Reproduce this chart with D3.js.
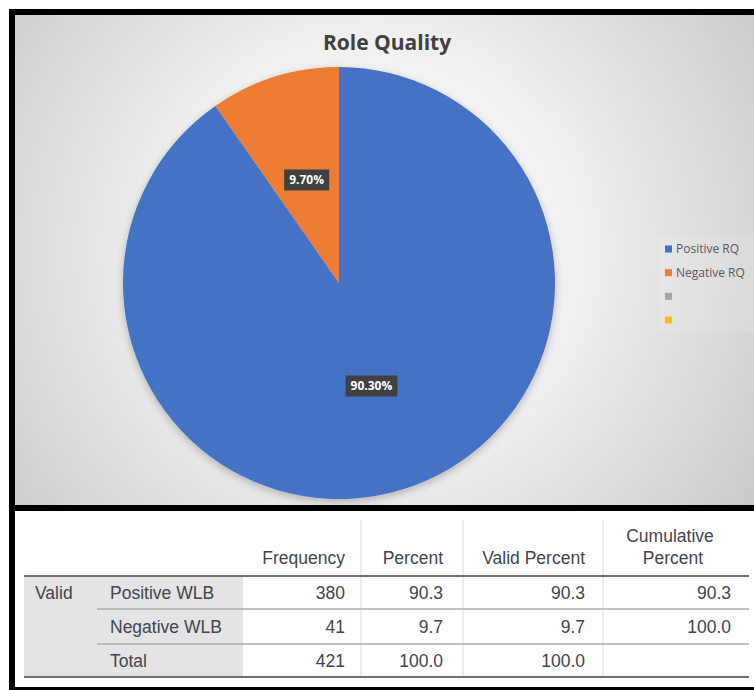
<!DOCTYPE html>
<html>
<head>
<meta charset="utf-8">
<script src="https://cdn.jsdelivr.net/npm/d3@7"></script>
<style>
  html, body { margin: 0; padding: 0; background: #ffffff; }
  svg { display: block; }
</style>
</head>
<body>
<svg id="chart" width="754" height="690"></svg>
<script>
// Pie series (percent of respondents)
const categories = ["Positive RQ", "Negative RQ", "", ""];
const shares = [90.3, 9.7, 0, 0];
const sliceColors = ["#4472C4", "#ED7D31", "#A5A5A5", "#FFC000"];

// Frequency table
const tableHeaders = ["Frequency", "Percent", "Valid Percent", "Cumulative Percent"];
const rowGroup = "Valid";
const rowLabels = ["Positive WLB", "Negative WLB", "Total"];
const frequency = [380, 41, 421];
const percent = [90.3, 9.7, 100.0];
const validPercent = [90.3, 9.7, 100.0];
const cumulativePercent = [90.3, 100.0, null];

const svg = d3.select("#chart");
const W = 754, H = 690;

// ---- chart panel background ----
const defs = svg.append("defs");
const grad = defs.append("radialGradient")
  .attr("id", "bg").attr("gradientUnits", "userSpaceOnUse")
  .attr("cx", 370).attr("cy", 250).attr("r", 470);
grad.append("stop").attr("offset", "0%").attr("stop-color", "#ffffff");
grad.append("stop").attr("offset", "45%").attr("stop-color", "#f0f0f0");
grad.append("stop").attr("offset", "100%").attr("stop-color", "#c8c8c8");

const shadow = defs.append("filter").attr("id", "pieShadow")
  .attr("x", "-20%").attr("y", "-20%").attr("width", "140%").attr("height", "140%");
shadow.append("feGaussianBlur").attr("in", "SourceAlpha").attr("stdDeviation", 4);
shadow.append("feOffset").attr("dx", 0).attr("dy", 3).attr("result", "b");
shadow.append("feComponentTransfer").append("feFuncA").attr("type", "linear").attr("slope", 0.25);
const merge = shadow.append("feMerge");
merge.append("feMergeNode");
merge.append("feMergeNode").attr("in", "SourceGraphic");

svg.append("rect").attr("x", 15).attr("y", 15).attr("width", W - 15).attr("height", 490)
  .attr("fill", "url(#bg)");
svg.append("rect").attr("x", 15).attr("y", 511).attr("width", W - 15).attr("height", 176)
  .attr("fill", "#ffffff");

// ---- title ----
svg.append("text")
  .attr("x", 387).attr("y", 50)
  .attr("text-anchor", "middle")
  .style("font-family", "'Open Sans', 'Noto Sans', sans-serif")
  .style("font-weight", "700")
  .style("font-size", "21px")
  .style("fill", "#404040")
  .text("Role Quality");

// ---- pie ----
const cx = 339, cy = 283, R = 216;
const pie = d3.pie().sort(null).value(d => d.v);
const pieData = pie(categories.map((c, i) => ({ c, v: shares[i], color: sliceColors[i] })));
const arc = d3.arc().innerRadius(0).outerRadius(R);

const gPie = svg.append("g").attr("transform", `translate(${cx},${cy})`);
gPie.append("g").attr("filter", "url(#pieShadow)")
  .selectAll("path").data(pieData.filter(d => d.data.v > 0)).join("path")
  .attr("d", arc)
  .attr("fill", d => d.data.color);

// data labels
const fmt = v => v.toFixed(2) + "%";
const labels = gPie.selectAll("g.lbl").data(pieData.filter(d => d.data.v > 0)).join("g")
  .attr("class", "lbl")
  .attr("transform", d => {
    const [x, y] = arc.centroid(d);
    return `translate(${x},${y})`;
  });
labels.each(function(d) {
  const g = d3.select(this);
  const t = g.append("text")
    .attr("text-anchor", "middle")
    .attr("dy", "0.35em")
    .style("font-family", "'Open Sans', 'Noto Sans', sans-serif")
    .style("font-weight", "700")
    .style("font-size", "12px")
    .style("fill", "#ffffff")
    .text(fmt(d.data.v));
  const bb = t.node().getBBox();
  g.insert("rect", "text")
    .attr("x", bb.x - 5).attr("y", -10.5)
    .attr("width", bb.width + 10).attr("height", 21)
    .attr("fill", "#404040");
});

// ---- legend ----
const legend = svg.append("g");
legend.append("rect").attr("x", 659).attr("y", 236).attr("width", 95).attr("height", 96)
  .attr("fill", "#ffffff").attr("opacity", 0.12);
const legY = d3.scalePoint().domain(d3.range(categories.length)).range([249, 320]);
const li = legend.selectAll("g.item").data(categories).join("g")
  .attr("class", "item")
  .attr("transform", (d, i) => `translate(665,${legY(i)})`);
li.append("rect").attr("x", 0).attr("y", -3.5).attr("width", 7).attr("height", 7)
  .attr("fill", (d, i) => sliceColors[i]);
li.append("text").attr("x", 11).attr("dy", "0.35em")
  .style("font-family", "'Open Sans', 'Noto Sans', sans-serif")
  .style("font-size", "12px")
  .style("fill", "#595959")
  .text(d => d);

// ---- frequency table ----
const tFont = "'Liberation Sans', Arial, sans-serif";
const tColor = "#3f464d";
const colRight = [345, 443, 585, 731];
const colSep = [361, 463, 603];
const rowLines = [576, 609, 644, 677];
const rowMid = [593, 627, 661];
const tbl = svg.append("g");

// shaded row-header block
tbl.append("rect").attr("x", 24).attr("y", rowLines[0]).attr("width", 243 - 24)
  .attr("height", rowLines[3] - rowLines[0]).attr("fill", "#e4e4e4");

// column separators
tbl.selectAll("line.sep").data(colSep).join("line")
  .attr("x1", d => d).attr("x2", d => d).attr("y1", 520).attr("y2", rowLines[3])
  .attr("stroke", "#dcdcdc").attr("stroke-width", 1);

// horizontal rules
tbl.append("line").attr("x1", 24).attr("x2", 749).attr("y1", rowLines[0]).attr("y2", rowLines[0])
  .attr("stroke", "#67727a").attr("stroke-width", 2);
tbl.selectAll("line.row").data([rowLines[1], rowLines[2]]).join("line")
  .attr("x1", 97).attr("x2", 749).attr("y1", d => d).attr("y2", d => d)
  .attr("stroke", "#a8aeb2").attr("stroke-width", 1.5);
tbl.append("line").attr("x1", 24).attr("x2", 749).attr("y1", rowLines[3]).attr("y2", rowLines[3])
  .attr("stroke", "#67727a").attr("stroke-width", 2);

function tText(x, y, s, anchor) {
  tbl.append("text").attr("x", x).attr("y", y).attr("text-anchor", anchor || "end")
    .attr("dy", "0.35em")
    .style("font-family", tFont).style("font-size", "17.5px").style("fill", tColor)
    .text(s);
}

// headers
tText(colRight[0], 558, tableHeaders[0]);
tText(colRight[1], 558, tableHeaders[1]);
tText(colRight[2], 558, tableHeaders[2]);
const cumWords = tableHeaders[3].split(" ");
tText(670, 536, cumWords[0], "middle");
tText(673, 558, cumWords[1], "middle");

// body
tText(35, rowMid[0], rowGroup, "start");
rowLabels.forEach((lab, i) => {
  tText(110, rowMid[i], lab, "start");
  tText(colRight[0], rowMid[i], String(frequency[i]));
  tText(colRight[1], rowMid[i], percent[i].toFixed(1));
  tText(colRight[2], rowMid[i], validPercent[i].toFixed(1));
  if (cumulativePercent[i] != null) tText(colRight[3], rowMid[i], cumulativePercent[i].toFixed(1));
});

// ---- black frame ----
const frame = svg.append("g").attr("fill", "#000000");
frame.append("rect").attr("x", 9).attr("y", 9).attr("width", W - 9).attr("height", 6);
frame.append("rect").attr("x", 9).attr("y", 9).attr("width", 6).attr("height", H - 9);
frame.append("rect").attr("x", 9).attr("y", 505).attr("width", W - 9).attr("height", 6);
frame.append("rect").attr("x", 9).attr("y", 687).attr("width", W - 9).attr("height", 3);
</script>
</body>
</html>
